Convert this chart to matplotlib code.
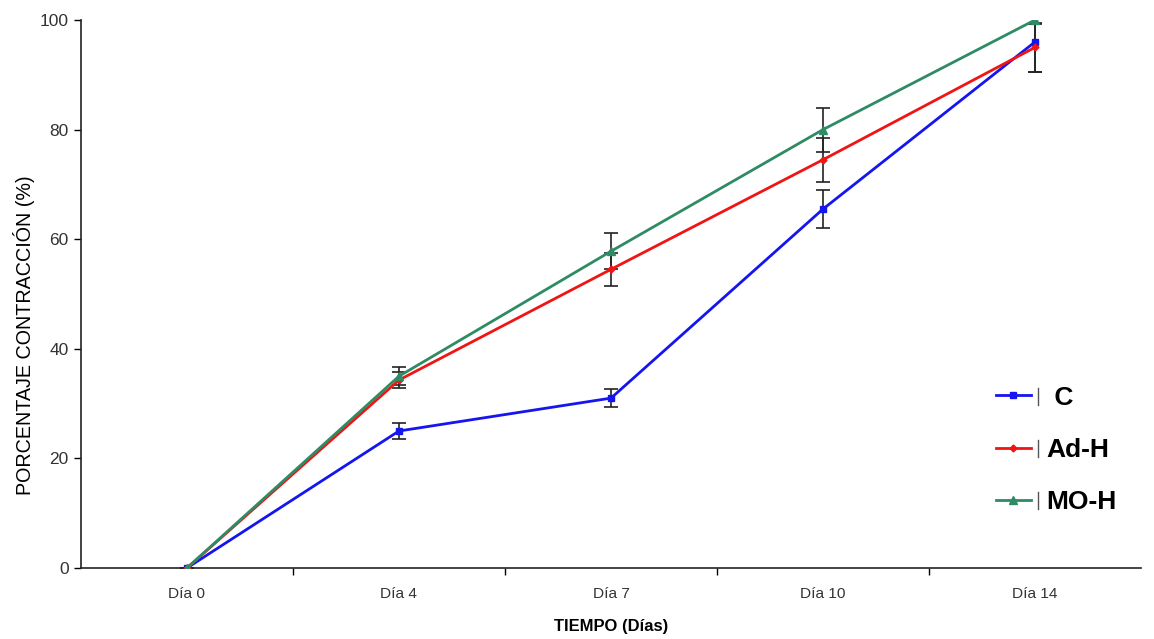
import matplotlib
matplotlib.use("Agg")
import matplotlib.pyplot as plt
from matplotlib import font_manager
from matplotlib.legend_handler import HandlerLine2D
from matplotlib.lines import Line2D
import numpy as np

categories = ["Día 0", "Día 4", "Día 7", "Día 10", "Día 14"]
c_vals = [0, 25, 31, 65.5, 96]
c_err = [0, 1.4, 1.6, 3.5, 5.5]
adh_vals = [0, 34.3, 54.5, 74.5, 95]
adh_err = [0, 1.5, 3.0, 4.0, 4.5]
moh_vals = [0, 35.0, 57.8, 80, 100]
moh_err = [0, 1.6, 3.3, 4.0, 0.8]
series_names = [" C", "Ad-H", "MO-H"]

plt.rcParams['font.family'] = ['Liberation Sans', 'DejaVu Sans']
names = {f.name for f in font_manager.fontManager.ttflist}
narrow = 'Liberation Sans Narrow' if 'Liberation Sans Narrow' in names else 'Liberation Sans'
narrow_scale = 1.0 if narrow == 'Liberation Sans Narrow' else 0.82

fig = plt.figure(figsize=(11.54, 6.39), dpi=100)
ax = fig.add_axes([81/1154, 1-568/639, (1141-81)/1154, (568-20)/639])

x = np.arange(len(categories))
series = [
    (series_names[0], c_vals, c_err, "#1515F0", "s", 5),
    (series_names[1], adh_vals, adh_err, "#F01515", "D", 3.5),
    (series_names[2], moh_vals, moh_err, "#2E8B64", "^", 5.5),
]
handles = []
for name, v, e, col, mk, ms in series:
    ax.errorbar(x, v, yerr=e, fmt='none', ecolor='#222222', elinewidth=1.2,
                capsize=5, capthick=1.2, zorder=2)
    h, = ax.plot(x, v, color=col, lw=2.0, marker=mk, ms=ms, label=name, zorder=3)
    handles.append(h)

ax.set_xlim(-0.5, 4.5)
ax.set_ylim(0, 100)
ax.set_yticks([0, 20, 40, 60, 80, 100])
ax.set_xticks(x)
ax.set_xticklabels(categories, family=[narrow, 'DejaVu Sans'], fontsize=13.5 * narrow_scale)
ax.set_xticks(np.arange(-0.5, 4.6, 1.0)[1:-1], minor=True)
ax.tick_params(axis='x', which='major', length=0, pad=14, labelcolor='#333333')
ax.tick_params(axis='x', which='minor', length=5, width=1, direction='out')
ax.tick_params(axis='y', length=5, width=1, direction='out', labelsize=12.5, labelcolor='#333333', pad=4)
for s in ['top', 'right']:
    ax.spines[s].set_visible(False)
for s in ['left', 'bottom']:
    ax.spines[s].set_linewidth(1.2)
    ax.spines[s].set_color('#222222')

ax.set_ylabel("PORCENTAJE CONTRACCIÓN (%)", fontsize=14.2)
ax.yaxis.set_label_coords(-0.0435, (568-335)/548)
ax.set_xlabel("TIEMPO (Días)", family=[narrow, 'DejaVu Sans'], fontsize=14.5 * narrow_scale,
              fontweight='bold')
ax.xaxis.set_label_coords(0.5, -(619-568)/548)


class BarHandler(HandlerLine2D):
    def create_artists(self, legend, orig_handle, xdescent, ydescent, width, height, fontsize, trans):
        arts = super().create_artists(legend, orig_handle, xdescent, ydescent, width, height, fontsize, trans)
        vx = width - xdescent + 5
        v = Line2D([vx, vx], [-ydescent, height * 0.9 - ydescent], color='#555555', lw=1.0,
                   transform=trans)
        return list(arts) + [v]


leg = ax.legend(handles=handles, loc='upper left', bbox_to_anchor=(0.8505, 0.357),
                frameon=False, prop={'size': 19, 'weight': 'bold'}, borderpad=0,
                handlelength=1.33, labelspacing=1.07, handletextpad=0.6,
                handler_map={Line2D: BarHandler()})

fig.savefig("out.png", dpi=100, facecolor='white')
